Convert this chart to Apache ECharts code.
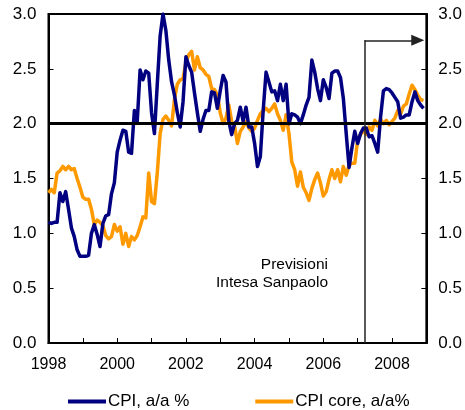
<!DOCTYPE html>
<html><head><meta charset="utf-8">
<script src="https://cdn.jsdelivr.net/npm/echarts@6/dist/echarts.min.js"></script>
<style>html,body{margin:0;padding:0;background:#fff}#c{width:465px;height:410px}</style>
</head><body><div id="c"></div>
<script>
// Monthly data, Jan 1998 - Dec 2008
var startYear = 1998;
var cpi = [
1.10,1.09,1.10,1.10,1.37,1.29,1.38,1.22,1.05,0.97,0.85,0.79,
0.79,0.79,0.80,1.00,1.08,0.99,0.88,1.09,1.16,1.17,1.36,1.46,
1.74,1.85,1.94,1.93,1.74,1.73,2.12,2.02,2.49,2.40,2.48,2.46,
2.10,1.91,2.36,2.80,3.00,2.85,2.58,2.38,2.26,2.10,1.97,2.20,
2.61,2.53,2.47,2.28,2.10,1.93,2.04,2.12,2.12,2.29,2.28,2.14,
2.30,2.44,2.38,2.02,1.90,2.00,2.03,2.15,2.02,2.15,1.97,1.97,
1.82,1.61,1.70,2.12,2.47,2.38,2.29,2.30,2.21,2.36,2.21,2.36,
2.00,2.09,2.08,2.06,2.00,2.08,2.17,2.24,2.58,2.47,2.32,2.21,
2.40,2.33,2.23,2.46,2.48,2.48,2.42,2.23,1.91,1.60,1.78,1.93,
1.82,1.91,1.96,1.96,1.88,1.89,1.82,1.74,2.06,2.30,2.32,2.31,
2.28,2.24,2.20,2.05,2.06,2.08,2.08,2.20,2.29,2.21,2.17,2.14
];
var cpiCore = [
1.37,1.40,1.37,1.55,1.57,1.61,1.58,1.61,1.58,1.59,1.50,1.42,
1.33,1.31,1.31,1.22,1.08,1.12,1.10,1.07,0.98,0.95,0.97,1.08,
1.02,1.06,0.90,1.00,0.88,0.97,0.94,0.98,1.06,1.15,1.14,1.55,
1.29,1.27,1.55,1.91,2.04,2.07,2.03,1.98,2.22,2.36,2.40,2.41,
2.56,2.63,2.66,2.49,2.61,2.51,2.49,2.45,2.43,2.32,2.31,2.26,
2.10,2.00,2.05,2.17,2.02,1.98,1.82,1.93,1.97,2.02,1.96,1.93,
1.96,2.03,2.09,2.12,2.14,2.11,2.14,2.18,2.09,2.03,1.94,2.08,
1.91,1.65,1.58,1.43,1.56,1.42,1.37,1.30,1.41,1.49,1.55,1.46,
1.34,1.38,1.49,1.58,1.50,1.58,1.47,1.61,1.53,1.62,1.64,1.64,
1.85,1.90,1.94,1.90,1.97,1.94,2.03,1.98,2.04,2.00,2.03,1.99,
2.02,2.05,2.12,2.09,2.16,2.18,2.27,2.35,2.31,2.26,2.22,2.21
];
var seriesNames = ['CPI, a/a %', 'CPI core, a/a%'];
var xMin = 1998, xMax = 2009;
var yTicks = [0, 0.5, 1.0, 1.5, 2.0, 2.5, 3.0];
var refLevel = 2.0;
var forecastStart = 2007.2;   // start of forecast period
var arrowLevel = 2.76;
var arrowEnd = 2008.75;
var noteLines = ['Previsioni', 'Intesa Sanpaolo'];

function toPairs(arr){ return arr.map(function(v,i){ return [startYear + i/12, v]; }); }

var FONT = '"Liberation Sans", Arial, sans-serif';
var chart = echarts.init(document.getElementById('c'), null, {renderer:'canvas'});
var yAxisBase = function(pos){
  return {
    type:'value', position:pos, min:yTicks[0], max:yTicks[yTicks.length-1], interval:0.5,
    axisLine:{show:true, lineStyle:{color:'#000', width:2}},
    axisTick:{show:true, inside:true, length:5, lineStyle:{color:'#000', width:1}},
    splitLine:{show:false},
    axisLabel:{color:'#000', fontSize:17, fontFamily:FONT, margin:12,
      formatter:function(v){ return v.toFixed(1); }}
  };
};
chart.setOption({
  animation:false,
  backgroundColor:'#fff',
  grid:{left:48.5, right:38.5, top:14, bottom:67, show:true, borderColor:'#000', borderWidth:2},
  legend:{
    left:63, top:388, itemWidth:38, itemHeight:4, itemGap:66, icon:'rect',
    textStyle:{fontSize:17, fontFamily:FONT, color:'#000', padding:[0,0,0,-3]},
    data:seriesNames
  },
  xAxis:{
    type:'value', min:xMin, max:xMax, interval:1,
    axisLine:{show:true, lineStyle:{color:'#000', width:2}},
    axisTick:{show:true, inside:true, length:5, lineStyle:{color:'#000', width:1}},
    splitLine:{show:false},
    axisLabel:{color:'#000', fontSize:16, fontFamily:FONT, margin:14,
      formatter:function(v){ return (v % 2 === 0) ? String(v) : ''; }}
  },
  yAxis:[yAxisBase('left'), yAxisBase('right')],
  series:[
    {
      name:seriesNames[0], type:'line', data:toPairs(cpi), showSymbol:false, symbol:'none',
      lineStyle:{color:'#000080', width:3.5, join:'round'}, itemStyle:{color:'#000080'}, z:3, clip:true,
      markLine:{
        silent:true, symbol:'none', animation:false,
        label:{show:false},
        data:[
          [{coord:[xMin, refLevel], symbol:'none'}, {coord:[xMax, refLevel], symbol:'none'}]
        ],
        lineStyle:{color:'#000', width:3, type:'solid'}
      }
    },
    {
      name:seriesNames[1], type:'line', data:toPairs(cpiCore), showSymbol:false, symbol:'none',
      lineStyle:{color:'#ff9900', width:3.5, join:'round'}, itemStyle:{color:'#ff9900'}, z:2, clip:true,
      markLine:{
        silent:true, animation:false, label:{show:false},
        lineStyle:{color:'#222', width:1.5, type:'solid'},
        data:[
          [{coord:[forecastStart, 0], symbol:'none'}, {coord:[forecastStart, arrowLevel], symbol:'none'}],
          [{coord:[forecastStart, arrowLevel], symbol:'none'}, {coord:[arrowEnd, arrowLevel], symbol:'triangle', symbolSize:[11,13], symbolRotate:-90}]
        ]
      }
    }
  ],
  graphic:[
    {type:'text', right:465-328, top:257, style:{text:noteLines[0], font:'15.5px '+FONT, fill:'#000', textAlign:'right'}},
    {type:'text', right:465-328, top:275, style:{text:noteLines[1], font:'15.5px '+FONT, fill:'#000', textAlign:'right'}}
  ]
});
</script>
</body></html>
